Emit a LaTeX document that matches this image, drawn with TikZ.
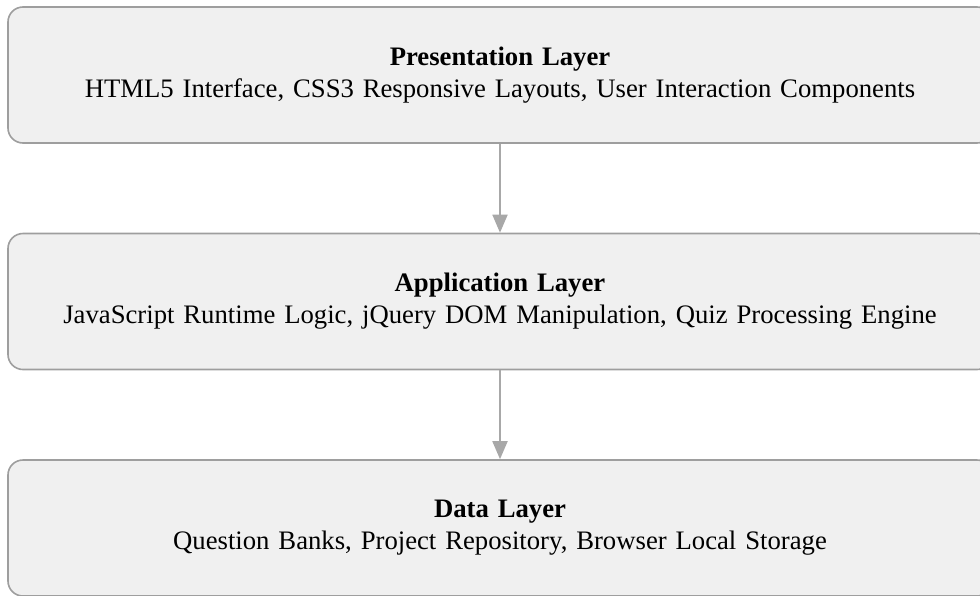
\documentclass[tikz,border=0pt]{standalone}
\usepackage{fontspec}
\setmainfont[WordSpace=1.33]{Liberation Serif}
\usetikzlibrary{arrows.meta}
\definecolor{boxfill}{HTML}{F0F0F0}
\definecolor{boxline}{HTML}{9E9E9E}
\definecolor{arrowgray}{HTML}{A8A8A8}
\tikzset{
  layerbox/.style={draw=boxline, line width=1.6pt, fill=boxfill, rounded corners=15pt,
    minimum width=984pt, minimum height=136pt, inner sep=0pt, align=center,
    font=\fontsize{26.7}{32}\selectfont},
  flowarrow/.style={draw=arrowgray, line width=1.8pt, -{Triangle[width=15pt,length=18pt]}}
}
\begin{document}
\begin{tikzpicture}[x=1pt,y=1pt]
\useasboundingbox (0,0) rectangle (980,-595);
\node[layerbox] (pres) at (500,-75) {\textbf{Presentation Layer}\\HTML5 Interface, CSS3 Responsive Layouts, User Interaction Components};
\node[layerbox] (app) at (500,-301.5) {\textbf{Application Layer}\\JavaScript Runtime Logic, jQuery DOM Manipulation, Quiz Processing Engine};
\node[layerbox] (data) at (500,-528) {\textbf{Data Layer}\\Question Banks, Project Repository, Browser Local Storage};
\draw[flowarrow] (pres.south) -- (app.north);
\draw[flowarrow] (app.south) -- (data.north);
\end{tikzpicture}
\end{document}
